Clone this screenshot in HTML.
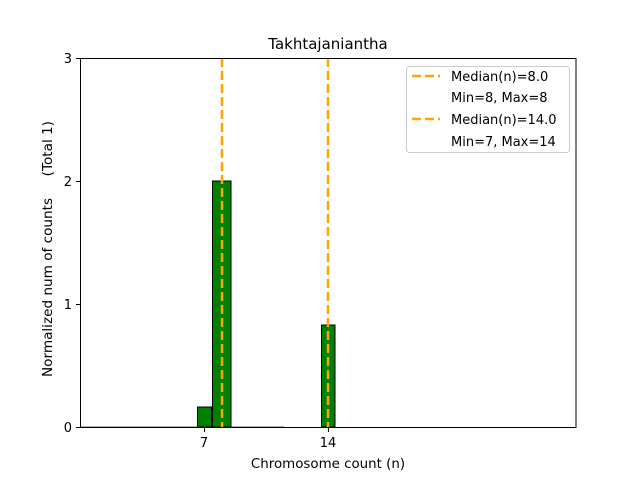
<!DOCTYPE html>
<html><head><style>body{margin:0;background:#fff}svg{display:block}text{font-family:"DejaVu Sans","Liberation Sans",sans-serif;fill:#000;white-space:pre}</style></head>
<body>
<svg width="640" height="480" viewBox="0 0 640 480">
<rect width="640" height="480" fill="#fff"/>
<line x1="80" y1="427" x2="284" y2="427" stroke="#999" stroke-width="1.5"/>
<rect x="197.5" y="407" width="14" height="20" fill="#008000" stroke="#000" stroke-width="1"/>
<rect x="212.5" y="181" width="18.5" height="246" fill="#008000" stroke="#000" stroke-width="1"/>
<rect x="321.5" y="325" width="13.5" height="102" fill="#008000" stroke="#000" stroke-width="1"/>
<line x1="222" y1="58" x2="222" y2="427" stroke="#FFA500" stroke-width="2.5" stroke-dasharray="9,4"/>
<line x1="328" y1="58" x2="328" y2="427" stroke="#FFA500" stroke-width="2.5" stroke-dasharray="9,4"/>
<rect x="80.5" y="58.5" width="495.5" height="369" fill="none" stroke="#000" stroke-width="1"/>
<g stroke="#000"><line x1="76" y1="427.5" x2="80" y2="427.5"/><line x1="76" y1="304.5" x2="80" y2="304.5"/><line x1="76" y1="181.5" x2="80" y2="181.5"/><line x1="76" y1="58.5" x2="80" y2="58.5"/>
<line x1="204.5" y1="428" x2="204.5" y2="432"/><line x1="328.5" y1="428" x2="328.5" y2="432"/></g>
<g font-size="13" text-anchor="end"><text x="72" y="432">0</text><text x="72" y="309">1</text><text x="72" y="186">2</text><text x="72" y="63">3</text></g>
<g font-size="13" text-anchor="middle"><text x="204" y="447">7</text><text x="328" y="447">14</text>
<text x="328" y="468" font-size="13.4">Chromosome count (n)</text>
<text x="328" y="49" font-size="15">Takhtajaniantha</text></g>
<text transform="translate(52,249) rotate(-90)" font-size="13.6" text-anchor="middle" xml:space="preserve">Normalized num of counts     (Total 1)</text>
<rect x="406.5" y="66.5" width="163" height="86" rx="3" fill="#fff" stroke="#ccc"/>
<line x1="412" y1="76" x2="440" y2="76" stroke="#FFA500" stroke-width="2.5" stroke-dasharray="9,4"/>
<line x1="412" y1="119" x2="440" y2="119" stroke="#FFA500" stroke-width="2.5" stroke-dasharray="9,4"/>
<g font-size="13"><text x="451" y="81">Median(n)=8.0</text><text x="451" y="102">Min=8, Max=8</text><text x="451" y="124">Median(n)=14.0</text><text x="451" y="146">Min=7, Max=14</text></g>
</svg>
</body></html>
